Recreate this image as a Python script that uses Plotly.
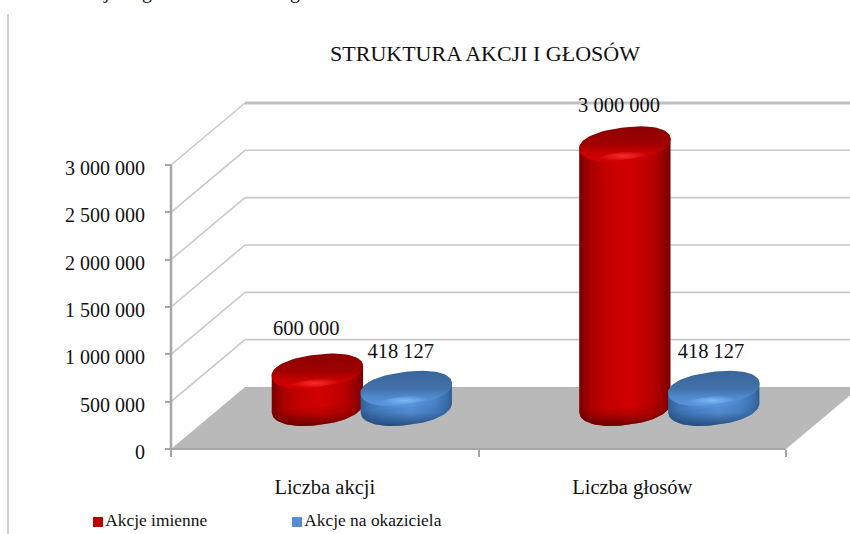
import numpy as np
import plotly.graph_objects as go

# values
categories = ["Liczba akcji", "Liczba głosów"]
series_names = ["Akcje imienne", "Akcje na okaziciela"]
akcje_imienne = [600000, 3000000]
akcje_okaziciela = [418127, 418127]
y_ticks = [0, 500000, 1000000, 1500000, 2000000, 2500000, 3000000]
y_labels = ["0", "500 000", "1 000 000", "1 500 000", "2 000 000", "2 500 000", "3 000 000"]

W, H = 850, 534
AXIS_L, CAT_W = 171.0, 307.5     # pixel of x=0, pixels per category
AXIS_B, PX_PER_UNIT = 449.0, 94.67e-6  # pixel of y=0, pixels per share

SERIF = "Liberation Serif, Times New Roman, serif"
GRID = "#c9c9c9"
AXIS = "#a6a6a6"

RED_BODY = [[0, "#7a0000"], [0.12, "#a80000"], [0.3, "#c40000"], [0.55, "#d20000"],
            [0.8, "#b80000"], [0.95, "#8c0000"], [1, "#700000"]]
RED_CAP = [[0, "#d40000"], [0.25, "#c80000"], [0.5, "#a00000"], [1, "#8c0000"]]
BLUE_BODY = [[0, "#2f5f96"], [0.12, "#3f75b4"], [0.3, "#4c87cc"], [0.55, "#5895de"],
             [0.8, "#4a84c8"], [0.95, "#3a6ca8"], [1, "#2c5a8c"]]
BLUE_CAP = [[0, "#5a96dc"], [0.25, "#5089cd"], [0.5, "#4270a8"], [1, "#39659b"]]


def px_x(dx):
    return dx / CAT_W


def px_y(dy):
    return dy / PX_PER_UNIT


# axis ranges that make the whole page the plot area
x_range = [-AXIS_L / CAT_W, (W - AXIS_L) / CAT_W]
y_range = [-(H - AXIS_B) / PX_PER_UNIT, AXIS_B / PX_PER_UNIT]

DEPTH_X, DEPTH_Y = px_x(74), px_y(62)
N_CAT = len(categories)


def ellipse(cx, cy, rx, ry, tilt=7.0, start=0.0, stop=2 * np.pi, n=80, power=0.9):
    # tilted, slightly squared ellipse in y-up space, rx/ry in pixels, centre in data units
    t = np.linspace(start, stop, n)
    a = np.radians(tilt)
    c = np.sign(np.cos(t)) * np.abs(np.cos(t)) ** power
    s = np.sign(np.sin(t)) * np.abs(np.sin(t)) ** power
    ex = rx * c * np.cos(a) - ry * s * np.sin(a)
    ey = rx * c * np.sin(a) + ry * s * np.cos(a)
    return cx + px_x(ex), cy + px_y(ey)


fig = go.Figure()

# floor
fig.add_trace(go.Scatter(
    x=[0, DEPTH_X, N_CAT + DEPTH_X, N_CAT, 0],
    y=[0, DEPTH_Y, DEPTH_Y, 0, 0],
    mode="lines", fill="toself", fillcolor="#b9b9b9",
    line=dict(width=0), showlegend=False, hoverinfo="skip",
))

# wall and side gridlines, one per tick
for v in y_ticks[1:]:
    fig.add_trace(go.Scatter(
        x=[0, DEPTH_X], y=[v, v + DEPTH_Y],
        mode="lines", line=dict(color=GRID, width=1.6),
        showlegend=False, hoverinfo="skip",
    ))
    fig.add_trace(go.Scatter(
        x=[DEPTH_X, N_CAT + DEPTH_X], y=[v + DEPTH_Y, v + DEPTH_Y],
        mode="lines",
        line=dict(color="#c0c0c0" if v == y_ticks[-1] else GRID, width=3 if v == y_ticks[-1] else 1.6),
        showlegend=False, hoverinfo="skip",
    ))
# front axes
fig.add_trace(go.Scatter(x=[0, 0], y=[0, y_ticks[-1]], mode="lines",
                         line=dict(color=AXIS, width=2.5), showlegend=False, hoverinfo="skip"))
fig.add_trace(go.Scatter(x=[0, N_CAT], y=[0, 0], mode="lines",
                         line=dict(color=AXIS, width=2), showlegend=False, hoverinfo="skip"))

# cylinders: base stays on the floor, top follows the value
BASE_Y = px_y(AXIS_B - 407)
TOP_LIFT = px_y(21)
RX, RY = 46.0, 15.5


def add_cylinder(cx, value, body, cap, glow, shade):
    top = value + TOP_LIFT
    t_x, t_y = ellipse(cx, top, RX, RY, start=0, stop=np.pi, n=50)
    b_x, b_y = ellipse(cx, BASE_Y, RX, RY + 2.5, start=np.pi, stop=2 * np.pi, n=50)
    fig.add_trace(go.Scatter(
        x=np.r_[t_x, b_x, t_x[0]], y=np.r_[t_y, b_y, t_y[0]],
        mode="lines", fill="toself", line=dict(width=0),
        fillgradient=dict(type="horizontal", colorscale=body),
        showlegend=False, hoverinfo="skip",
    ))
    # darker rim at the foot
    fig.add_trace(go.Scatter(
        x=np.r_[b_x, b_x[0]], y=np.r_[b_y, b_y[0]],
        mode="lines", fill="toself", line=dict(width=0),
        fillgradient=dict(type="vertical", colorscale=[[0, shade.replace("A", "0.85")],
                                                       [0.55, shade.replace("A", "0.15")],
                                                       [1, shade.replace("A", "0")]]),
        showlegend=False, hoverinfo="skip",
    ))
    c_x, c_y = ellipse(cx, top, RX, RY + 1)
    fig.add_trace(go.Scatter(
        x=c_x, y=c_y, mode="lines", fill="toself", line=dict(width=0),
        fillgradient=dict(type="vertical", colorscale=cap),
        showlegend=False, hoverinfo="skip",
    ))
    g_x, g_y = ellipse(cx - px_x(2), top - px_y(12), 27, 4, power=1.0)
    fig.add_trace(go.Scatter(
        x=g_x, y=g_y, mode="lines", fill="toself", line=dict(width=0),
        fillgradient=dict(type="radial", colorscale=[[0, glow.replace("A", "0.9")], [1, glow.replace("A", "0")]]),
        showlegend=False, hoverinfo="skip",
    ))


RED_X, BLUE_X = 0.476, 0.765
for i in range(N_CAT):
    add_cylinder(i + RED_X, akcje_imienne[i], RED_BODY, RED_CAP, "rgba(255,50,50,A)", "rgba(90,0,0,A)")
    add_cylinder(i + BLUE_X, akcje_okaziciela[i], BLUE_BODY, BLUE_CAP, "rgba(125,190,255,A)", "rgba(30,65,110,A)")

# data labels
label_x = [0.44, 0.747, 1.457, 1.756]
label_v = [akcje_imienne[0], akcje_okaziciela[0], akcje_imienne[1], akcje_okaziciela[1]]
label_lift = [62, 57, 58, 57]
fig.add_trace(go.Scatter(
    x=label_x,
    y=[v + px_y(d) for v, d in zip(label_v, label_lift)],
    text=[f"{v:,}".replace(",", " ") for v in label_v],
    mode="text", textposition="middle center",
    textfont=dict(family=SERIF, size=20.5, color="#111"),
    showlegend=False, hoverinfo="skip",
))

# legend row: marker plus its name, placed closer than the built-in legend allows
legend_x = [px_x(98 - AXIS_L), px_x(297 - AXIS_L)]
legend_y = px_y(AXIS_B - 522)
for name, color, lx in zip(series_names, ["#c00000", "#558ed5"], legend_x):
    fig.add_trace(go.Scatter(
        x=[lx], y=[legend_y], mode="markers+text", name=name, text=[name],
        textposition="middle right",
        textfont=dict(family=SERIF, size=17.4, color="#111"),
        marker=dict(symbol="square", size=10, color=color),
        showlegend=False,
    ))

# left rule of the page
fig.add_shape(type="line", xref="paper", yref="paper",
              x0=8 / W, x1=8 / W, y0=0, y1=1 - 14 / H,
              line=dict(color="#a0a0a0", width=1))

# tails of the line of text cut off by the top of the page
for ch, cx in zip(["j", "g", "g"], [106, 147, 295]):
    fig.add_annotation(text=ch, xref="paper", yref="paper", x=cx / W, y=1 - 5 / H,
                       xanchor="center", yanchor="bottom", showarrow=False,
                       font=dict(family=SERIF, size=20, color="#111"))

fig.update_layout(
    width=W, height=H,
    margin=dict(l=0, r=0, t=0, b=0),
    paper_bgcolor="white", plot_bgcolor="white",
    font=dict(family=SERIF, color="#111"),
    title=dict(text="STRUKTURA AKCJI I GŁOSÓW", x=485 / W, xanchor="center",
               y=1 - 53 / H, yanchor="middle", font=dict(family=SERIF, size=22, color="#111")),
    showlegend=False,
    xaxis=dict(
        range=x_range, domain=[0, 1], anchor="free", position=(H - AXIS_B) / H,
        tickvals=[i + 0.5 for i in range(N_CAT)], ticktext=categories,
        ticks="", showgrid=False, zeroline=False, showline=False,
        ticklabelstandoff=23, tickfont=dict(size=20.5, family=SERIF, color="#111"),
    ),
    xaxis2=dict(
        range=x_range, overlaying="x", anchor="free", position=(H - AXIS_B) / H,
        tickvals=list(range(N_CAT + 1)), showticklabels=False,
        ticks="outside", ticklen=7, tickwidth=2, tickcolor=AXIS,
        showgrid=False, zeroline=False, showline=False,
    ),
    yaxis=dict(
        range=y_range, domain=[0, 1], anchor="free", position=AXIS_L / W,
        tickvals=y_ticks, ticktext=y_labels,
        ticks="outside", ticklen=6, tickwidth=1.5, tickcolor=AXIS,
        ticklabelstandoff=16, ticklabelshift=3, tickfont=dict(size=20, family=SERIF, color="#111"),
        showgrid=False, zeroline=False, showline=False,
    ),
)
# an empty trace keeps the tick-only axis drawn
fig.add_trace(go.Scatter(x=[None], y=[None], xaxis="x2", showlegend=False, hoverinfo="skip"))

fig.write_html("out.html", config={"displayModeBar": False},
               post_script="document.body.style.margin='0';")
